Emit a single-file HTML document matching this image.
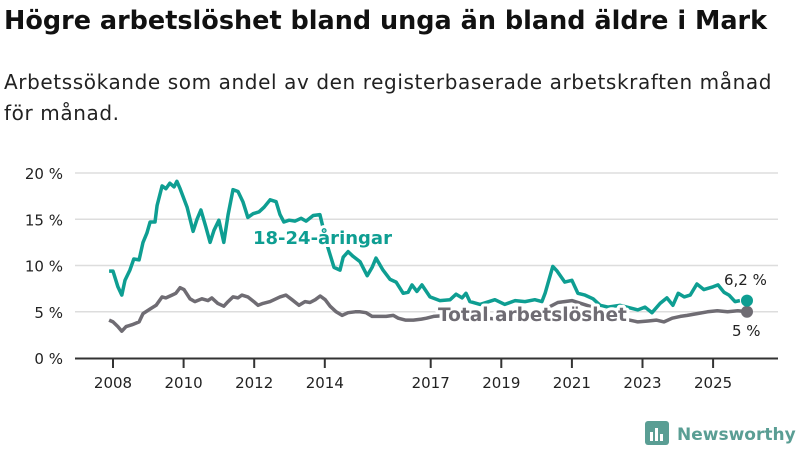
<!DOCTYPE html>
<html><head><meta charset="utf-8"><style>
body{margin:0;background:#fff;width:800px;height:450px;overflow:hidden;font-family:"Liberation Sans","DejaVu Sans",sans-serif}
svg text{font-family:"DejaVu Sans","Liberation Sans",sans-serif}
</style></head><body>
<svg id="c" width="800" height="450">
<text x="4" y="29" font-size="25.5" font-weight="bold" fill="#111">Högre arbetslöshet bland unga än bland äldre i Mark</text>
<text x="4" y="89" font-size="20" letter-spacing="0.6" fill="#222">Arbetssökande som andel av den registerbaserade arbetskraften månad</text>
<text x="4" y="120" font-size="20" letter-spacing="0.6" fill="#222">för månad.</text>
<g id="grid"></g><g id="lines"></g>
<g>
<rect x="645" y="421" width="24" height="24" rx="3" fill="#5a9e94"/>
<rect x="650" y="432" width="3" height="9" fill="#fff"/><rect x="655" y="428" width="3" height="13" fill="#fff"/><rect x="660" y="434" width="3" height="7" fill="#fff"/>
<text x="677" y="440" font-size="17" font-weight="bold" fill="#5a9e94">Newsworthy</text>
</g>
</svg>
<script>
const yTicks=[0,5,10,15,20];
const xTickYears=[2008,2010,2012,2014,2017,2019,2021,2023,2025];
const youthT=[2007.89,2008.0,2008.14,2008.25,2008.34,2008.48,2008.59,2008.74,2008.85,2008.96,2009.05,2009.19,2009.25,2009.39,2009.5,2009.61,2009.73,2009.81,2009.9,2010.1,2010.27,2010.38,2010.49,2010.63,2010.75,2010.86,2011.0,2011.14,2011.26,2011.4,2011.54,2011.68,2011.77,2011.82,2011.97,2012.14,2012.28,2012.45,2012.62,2012.73,2012.84,2012.99,2013.16,2013.33,2013.47,2013.67,2013.86,2014.09,2014.26,2014.43,2014.52,2014.66,2014.8,2015.0,2015.2,2015.34,2015.45,2015.65,2015.85,2016.02,2016.22,2016.36,2016.47,2016.61,2016.75,2016.98,2017.26,2017.55,2017.72,2017.89,2018.0,2018.11,2018.4,2018.82,2019.1,2019.39,2019.67,2019.95,2020.15,2020.24,2020.46,2020.58,2020.8,2021.0,2021.17,2021.37,2021.6,2021.8,2022.02,2022.36,2022.87,2023.07,2023.27,2023.5,2023.69,2023.86,2024.01,2024.18,2024.35,2024.54,2024.74,2025.0,2025.14,2025.31,2025.45,2025.62,2025.76,2025.96];
const youthV=[9.4,9.4,7.7,6.8,8.4,9.5,10.7,10.6,12.5,13.5,14.7,14.7,16.5,18.6,18.3,18.9,18.5,19.1,18.3,16.3,13.7,15.0,16.0,14.2,12.5,13.8,14.9,12.5,15.5,18.2,18.0,16.9,15.8,15.2,15.6,15.8,16.3,17.1,16.9,15.5,14.7,14.9,14.8,15.1,14.8,15.4,15.5,11.9,9.8,9.5,10.9,11.5,11.0,10.4,8.9,9.8,10.8,9.5,8.5,8.2,7.0,7.1,7.9,7.2,7.9,6.6,6.2,6.3,6.9,6.5,7.0,6.1,5.8,6.3,5.8,6.2,6.1,6.3,6.1,7.0,9.9,9.4,8.2,8.4,7.0,6.8,6.4,5.7,5.5,5.7,5.2,5.5,4.9,5.9,6.5,5.7,7.0,6.6,6.8,8.0,7.4,7.7,7.9,7.1,6.8,6.1,6.2];
const totalT=[2007.89,2008.0,2008.14,2008.25,2008.37,2008.54,2008.74,2008.85,2009.05,2009.22,2009.39,2009.5,2009.67,2009.78,2009.9,2010.01,2010.18,2010.32,2010.52,2010.69,2010.8,2010.97,2011.14,2011.26,2011.4,2011.54,2011.65,2011.82,2011.99,2012.11,2012.25,2012.45,2012.73,2012.9,2013.07,2013.27,2013.44,2013.58,2013.73,2013.87,2014.01,2014.15,2014.32,2014.49,2014.66,2014.86,2015.0,2015.17,2015.34,2015.57,2015.74,2015.94,2016.08,2016.28,2016.51,2016.74,2016.88,2017.08,2017.5,2018.0,2018.5,2019.0,2019.5,2020.0,2020.4,2020.6,2021.0,2021.5,2022.0,2022.5,2022.87,2023.16,2023.39,2023.61,2023.84,2024.07,2024.27,2024.55,2024.84,2025.12,2025.41,2025.7,2025.96];
const totalV=[4.1,3.9,3.4,2.9,3.4,3.6,3.9,4.8,5.3,5.7,6.6,6.5,6.8,7.0,7.6,7.4,6.4,6.1,6.4,6.2,6.5,5.9,5.6,6.1,6.6,6.5,6.8,6.6,6.1,5.7,5.9,6.1,6.6,6.8,6.3,5.7,6.1,6.0,6.3,6.7,6.3,5.6,5.0,4.6,4.9,5.0,5.0,4.9,4.5,4.5,4.5,4.6,4.3,4.1,4.1,4.2,4.3,4.5,4.6,4.4,4.3,4.2,4.3,4.5,5.6,6.0,6.2,5.6,5.0,4.2,3.9,4.0,4.1,3.9,4.3,4.5,4.6,4.8,5.0,5.1,5.0,5.1,5.0];
const ns="http://www.w3.org/2000/svg";
const X=t=>113+(t-2008)*35.3, Y=v=>358-v*9.25;
function mk(tag,at,parent){const e=document.createElementNS(ns,tag);for(const k in at)e.setAttribute(k,at[k]);parent.appendChild(e);return e;}
const g=document.getElementById('grid'), L=document.getElementById('lines');
yTicks.forEach(v=>{
 if(v>0){const l=mk('line',{x1:75,x2:778,y1:Y(v),y2:Y(v),stroke:'#ddd','stroke-width':1.5},g);
 
 }
 const t=mk('text',{x:63,y:Y(v)+6,'text-anchor':'end','font-size':15,fill:'#222'},g);t.textContent=v+' %';
 
 
});
const ax=mk('line',{x1:75,x2:778,y1:358.5,y2:358.5,stroke:'#333','stroke-width':2},g);


xTickYears.forEach(yr=>{
 mk('line',{x1:X(yr),x2:X(yr),y1:358,y2:368,stroke:'#333','stroke-width':2},g);
 const t=mk('text',{x:X(yr),y:388,'text-anchor':'middle','font-size':15,fill:'#222'},g);t.textContent=yr;
 
 
});
function line(T,V,col,name){
 const d=T.map((t,i)=>(i?'L':'M')+X(t).toFixed(1)+','+Y(V[i]).toFixed(1)).join('');
 const p=mk('path',{d:d,fill:'none',stroke:col,'stroke-width':3.5,'stroke-linejoin':'round'},L);
 
 
 const c=mk('circle',{cx:X(T[T.length-1]),cy:Y(V[V.length-1]),r:6,fill:col},L);
 
 
}
line(totalT,totalV,'#6f6c73','total-line');
line(youthT,youthV,'#0e9e92','youth-line');
function label(x,y,txt,col,size,name,halo){
 if(halo){const h=mk('text',{x:x,y:y,'font-size':size,'font-weight':'bold',fill:'#fff',stroke:'#fff','stroke-width':6,'stroke-linejoin':'round'},L);h.textContent=txt;}
 const t=mk('text',{x:x,y:y,'font-size':size,'font-weight':halo?'bold':'normal',fill:col},L);t.textContent=txt;
 
 
}
label(253,244,'18-24-åringar','#0e9e92',18,'youth-series-label',true);
label(438,321,'Total arbetslöshet','#6f6c73',18.5,'total-series-label',true);
label(724,285,'6,2 %','#222',15,'youth-end-value',false);
label(732,336,'5 %','#222',15,'total-end-value',false);
</script>
</body></html>
